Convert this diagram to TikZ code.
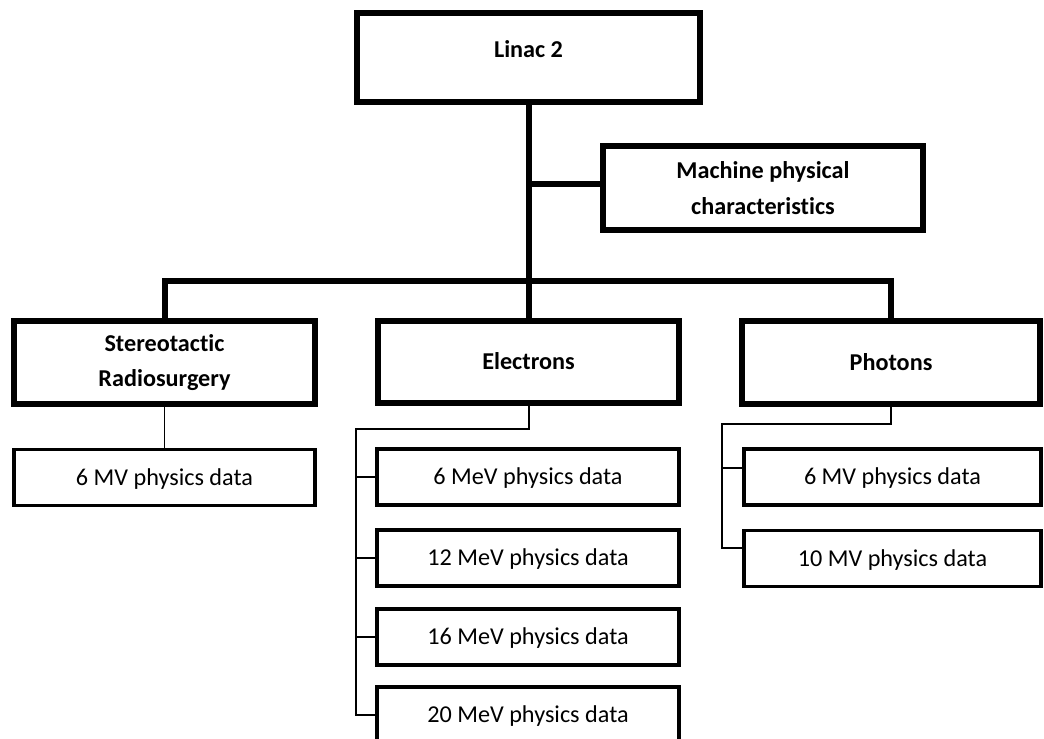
\documentclass[tikz,border=0pt]{standalone}
\usepackage{fontspec}
\setmainfont{Carlito}[Ligatures=NoCommon]
\newcommand\chartsize{\fontsize{24.2bp}{35.5bp}\selectfont}
\begin{document}
\begin{tikzpicture}[x=1bp, y=-1bp,
  topbox/.style={draw, rectangle, line width=6bp, inner sep=0pt, align=center, font=\chartsize\bfseries},
  databox/.style={draw, rectangle, line width=3.4bp, inner sep=0pt, font=\chartsize,
    minimum height=56bp, text height=15bp, text depth=0bp},
  oneline/.style={text height=15bp, text depth=0bp},
  trunk/.style={line width=6bp},
  twig/.style={line width=2bp}]
\clip (0,0) rectangle (1044,739);
\fill[white] (0,0) rectangle (1044,739);

% top level
\node[topbox, oneline, text depth=14bp, minimum width=343bp, minimum height=89bp] (linac) at (528.5,57.5) {Linac 2};
\node[topbox, minimum width=320bp, minimum height=84bp] (machine) at (763,188) {Machine physical\\characteristics};

% second level
\node[topbox, minimum width=301bp, minimum height=83bp] (stereo) at (164.5,362.5) {Stereotactic\\Radiosurgery};
\node[topbox, oneline, minimum width=301bp, minimum height=82bp] (electrons) at (528.5,362) {Electrons};
\node[topbox, oneline, minimum width=298bp, minimum height=83bp] (photons) at (891,362.5) {Photons};

% physics data boxes
\node[databox, minimum width=301bp] (s6) at (164.5,477.5) {6 MV physics data};
\node[databox, minimum width=302bp] (e6) at (528,477) {6 MeV physics data};
\node[databox, minimum width=302bp] (e12) at (528,558) {12 MeV physics data};
\node[databox, minimum width=302bp] (e16) at (528,637) {16 MeV physics data};
\node[databox, minimum width=302bp] (e20) at (528,715) {20 MeV physics data};
\node[databox, minimum width=297bp] (p6) at (892.5,477) {6 MV physics data};
\node[databox, minimum width=297bp] (p10) at (892.5,558.5) {10 MV physics data};

% main trunk
\coordinate (mj) at (528.5,184);
\coordinate (bar) at (528.5,281);
\draw[trunk] (linac.south) -- (electrons.north);
\draw[trunk] (mj) -- (mj -| machine.west);
\draw[trunk] (stereo.north) |- (bar) -| (photons.north);

% stereotactic branch
\draw[twig, line width=1.6bp] (stereo.south) -- (s6.north);

% electron branch
\coordinate (ej) at (356,429);
\draw[twig] (electrons.south) |- (ej) |- (e20.west);
\foreach \n in {e6,e12,e16} \draw[twig] (ej |- \n.west) -- (\n.west);

% photon branch
\coordinate (pj) at (722,424);
\coordinate (p6b) at ([yshift=9bp]p6.west);
\coordinate (p10b) at ([yshift=11bp]p10.west);
\draw[twig] (photons.south) |- (pj) |- (p10b);
\draw[twig] (pj |- p6b) -- (p6b);
\end{tikzpicture}
\end{document}
